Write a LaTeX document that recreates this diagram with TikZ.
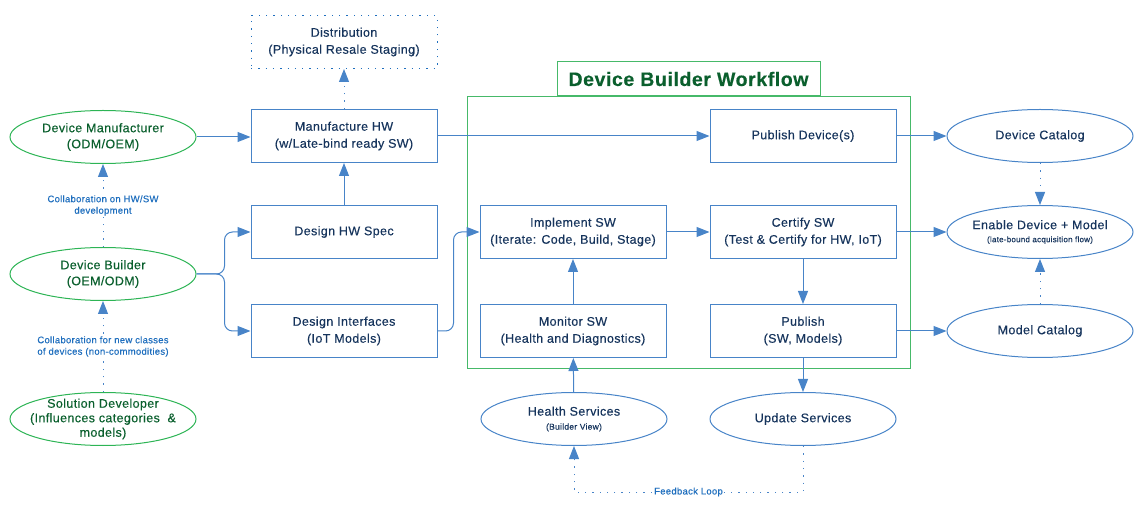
\documentclass[tikz,border=0pt]{standalone}
\usepackage{fontspec}
\setmainfont{Liberation Sans}[FakeBold=0.35, LetterSpace=3]
\usetikzlibrary{arrows.meta, positioning, shapes.geometric}

\definecolor{boxblue}{RGB}{72,132,200}
\definecolor{navy}{RGB}{22,52,92}
\definecolor{actorgreen}{RGB}{45,180,85}
\definecolor{darkgreen}{RGB}{10,95,45}
\definecolor{framegreen}{RGB}{70,185,105}
\definecolor{noteblue}{RGB}{30,110,190}

\begin{document}
\begin{tikzpicture}[
    x=1pt, y=-1pt,
    >={Triangle[length=13pt, width=10pt]},
    node distance=42pt and 43pt,
    block/.style={
      draw=boxblue, line width=1pt, rectangle, align=center, text=navy,
      minimum width=186pt, minimum height=53pt,
      font=\fontsize{12.5}{17}\selectfont
    },
    oval/.style={
      ellipse, draw=boxblue, line width=1pt, align=center, text=navy,
      minimum width=186pt, minimum height=53pt, inner xsep=-14pt, inner ysep=-10pt,
      font=\fontsize{12.5}{16}\selectfont
    },
    actor/.style={oval, draw=actorgreen, text=darkgreen},
    flow/.style={->, draw=boxblue, line width=1pt},
    dotflow/.style={flow, dash pattern=on 1.3pt off 6pt},
    note/.style={fill=white, text=noteblue, align=center, inner sep=1.5pt,
      font=\fontsize{9.5}{11.5}\selectfont}
]
    \useasboundingbox (0,0) rectangle (1146,510);

    % Workflow frame
    \node[draw=framegreen, line width=1pt, minimum width=443pt, minimum height=272pt] (workflow) at (688.5,233) {};
    \node[draw=framegreen, line width=1pt, fill=white, minimum width=263pt, minimum height=34pt,
      anchor=south, text=darkgreen, font=\fontsize{19.5}{21}\bfseries] (wftitle) at (workflow.north) {Device Builder Workflow};

    % Hardware column
    \node[block] (mhw) at (344,136) {Manufacture HW\\(w/Late-bind ready SW)};
    \node[block, below=of mhw] (hwspec) {Design HW Spec};
    \node[block, below=45pt of hwspec] (difaces) {Design Interfaces\\(IoT Models)};
    \node[block, draw=noteblue, dash pattern=on 1.3pt off 6pt, above=40pt of mhw] (dist) {Distribution\\(Physical Resale Staging)};

    % Workflow boxes
    \node[block] (pubdev) at (803,136) {Publish Device(s)};
    \node[block, below=of pubdev] (certify) {Certify SW\\(Test \& Certify for HW, IoT)};
    \node[block, below=45pt of certify] (publish) {Publish\\(SW, Models)};
    \node[block, left=of certify] (impl) {Implement SW\\(Iterate: Code, Build, Stage)};
    \node[block, left=of publish] (monitor) {Monitor SW\\(Health and Diagnostics)};

    % Services
    \node[oval] (health) at (574,419) {Health Services\\[-2pt]{\fontsize{8.5}{10}\selectfont (Builder View)}};
    \node[oval] (update) at (803,419) {Update Services};

    % Catalogs
    \node[oval, right=50pt of pubdev] (dcat) {Device Catalog};
    \node[oval, right=50pt of certify] (enable) {Enable Device + Model\\[-3pt]{\fontsize{8}{9}\selectfont (late-bound acquisition flow)}};
    \node[oval, right=50pt of publish] (mcat) {Model Catalog};

    % Actors
    \node[actor] (dmanuf) at (103,137) {Device Manufacturer\\(ODM/OEM)};
    \node[actor] (dbuild) at (103,274) {Device Builder\\(OEM/ODM)};
    \node[actor, font=\fontsize{12.5}{14.5}\selectfont] (sdev) at (103,419) {Solution Developer\\(Influences categories \ \&\\models)};

    % Collaboration links
    \draw[dotflow] (dbuild.north) -- node[note] {Collaboration on HW/SW\\development} (dmanuf.south);
    \draw[dotflow] (sdev.north) -- node[note] {Collaboration for new classes\\of devices (non-commodities)} (dbuild.south);

    % Hardware flow
    \draw[flow] (dmanuf.east) -- (dmanuf.east -| mhw.west);
    \draw[flow, rounded corners=8pt] (dbuild.east) -- ++(28,0) |- (hwspec.west);
    \draw[flow, rounded corners=8pt] (dbuild.east) -- ++(28,0) |- (difaces.west);
    \draw[flow] (hwspec) -- (mhw);
    \draw[dotflow] (mhw) -- (dist);
    \draw[flow] (mhw) -- (pubdev);
    \draw[flow, rounded corners=8pt] (difaces.east) -- ++(16,0) |- (impl.west);

    % Software flow
    \draw[flow] (impl) -- (certify);
    \draw[flow] (certify) -- (publish);
    \draw[flow] (monitor) -- (impl);
    \draw[flow] (health) -- (monitor);
    \draw[flow] (publish) -- (update);

    % To catalogs
    \draw[flow] (pubdev) -- (dcat);
    \draw[flow] (certify) -- (enable);
    \draw[flow] (publish) -- (mcat);
    \draw[dotflow] (dcat) -- (enable);
    \draw[dotflow] (mcat) -- (enable);

    % Feedback
    \draw[dotflow] (update.south) -- ++(0,46) -| node[note, pos=0.25] {Feedback Loop} (health.south);
\end{tikzpicture}
\end{document}
